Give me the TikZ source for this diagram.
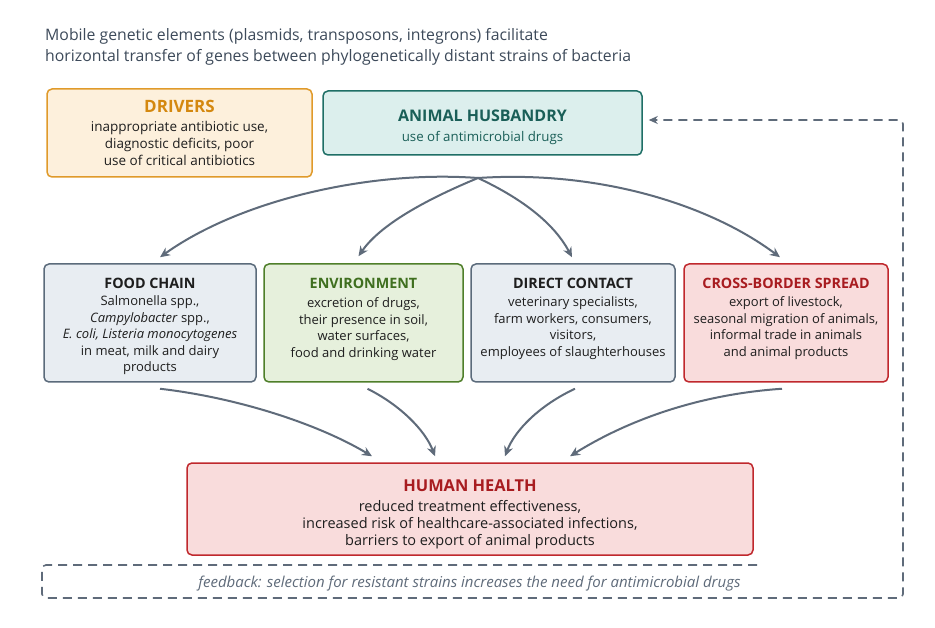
\documentclass[tikz,border=0pt]{standalone}
\usepackage{fontspec}
\setmainfont{Open Sans}
\usetikzlibrary{arrows.meta,calc}
\definecolor{hdr}{HTML}{3D4A5A}
\definecolor{arr}{HTML}{5F6B7A}
\definecolor{drvfill}{HTML}{FDF0DC}
\definecolor{drvdraw}{HTML}{E09A2A}
\definecolor{drvtxt}{HTML}{D4880F}
\definecolor{ahfill}{HTML}{DCEFED}
\definecolor{ahdraw}{HTML}{1F6F66}
\definecolor{ahtxt}{HTML}{1A5F58}
\definecolor{gyfill}{HTML}{E8EDF2}
\definecolor{gydraw}{HTML}{5B6B7B}
\definecolor{envfill}{HTML}{E6F0DC}
\definecolor{envdraw}{HTML}{4F7F2A}
\definecolor{envtxt}{HTML}{3F6F1F}
\definecolor{redfill}{HTML}{F9DCDC}
\definecolor{reddraw}{HTML}{C0282D}
\definecolor{redtxt}{HTML}{A81C20}
\definecolor{bodytxt}{HTML}{1E1E1E}
\newcommand\ttlsz[1]{\fontsize{#1}{16}\selectfont\bfseries}
\tikzset{
  box/.style={draw, rounded corners=5pt, line width=1.5pt, inner sep=0pt},
  boxtext/.style={anchor=north, align=center, inner sep=0pt, text=bodytxt,
     font=\fontsize{13}{16.5}\selectfont},
  flow/.style={draw=arr, line width=2pt, -{Stealth[length=10pt,width=9pt]}},
  fb/.style={draw=arr, line width=1.6pt, dash pattern=on 9pt off 6pt, rounded corners=4pt},
}
\begin{document}
\begin{tikzpicture}[x=1pt,y=-1pt]
\useasboundingbox (0,0) rectangle (935,628);
\fill[white] (0,0) rectangle (935,628);

\node[anchor=base west, inner sep=0pt, text=hdr, font=\fontsize{15.8}{21}\selectfont] (head1) at (45,40.5)
  {Mobile genetic elements (plasmids, transposons, integrons) facilitate};
\node[anchor=base west, inner sep=0pt, text=hdr, font=\fontsize{15.8}{21}\selectfont] (head2) at (45,61.5)
  {horizontal transfer of genes between phylogenetically distant strains of bacteria};

% boxes
\node[box, fill=drvfill, draw=drvdraw, minimum width=265pt, minimum height=88pt] (drv) at (179.5,133) {};
\node[box, fill=ahfill, draw=ahdraw, minimum width=319pt, minimum height=64pt] (ah) at (482.5,123) {};
\node[box, fill=gyfill, draw=gydraw, minimum width=212pt, minimum height=118pt] (fc) at (150,323) {};
\node[box, fill=envfill, draw=envdraw, minimum width=199pt, minimum height=118pt] (env) at (363.5,323) {};
\node[box, fill=gyfill, draw=gydraw, minimum width=204pt, minimum height=118pt] (dc) at (573,323) {};
\node[box, fill=redfill, draw=reddraw, minimum width=204pt, minimum height=118pt] (cb) at (786,323) {};
\node[box, fill=redfill, draw=reddraw, minimum width=566pt, minimum height=92pt] (hh) at (470,509) {};

% texts
\node[boxtext, font=\fontsize{13.5}{16.7}\selectfont] (drvt) at ([yshift=-11.5pt]drv.north)
  {{\ttlsz{17}\color{drvtxt}DRIVERS}\\[3pt]inappropriate antibiotic use,\\diagnostic deficits, poor\\use of critical antibiotics};
\node[boxtext, font=\fontsize{13.3}{16.5}\selectfont] (aht) at ([yshift=-19pt]ah.north)
  {{\ttlsz{16}\color{ahtxt}ANIMAL HUSBANDRY}\\[3.5pt]\textcolor{ahtxt}{use of antimicrobial drugs}};
\node[boxtext] (fct) at ([yshift=-14.5pt]fc.north)
  {{\ttlsz{14.3}FOOD CHAIN}\\[1pt]Salmonella spp.,\\\textit{Campylobacter} spp.,\\\textit{E. coli, Listeria monocytogenes}\\in meat, milk and dairy\\products};
\node[boxtext] (envt) at ([yshift=-14.5pt]env.north)
  {{\ttlsz{14.3}\color{envtxt}ENVIRONMENT}\\[3pt]excretion of drugs,\\their presence in soil,\\water surfaces,\\food and drinking water};
\node[boxtext] (dct) at ([yshift=-14.5pt]dc.north)
  {{\ttlsz{14.3}DIRECT CONTACT}\\[2pt]veterinary specialists,\\farm workers, consumers,\\visitors,\\employees of slaughterhouses};
\node[boxtext] (cbt) at ([yshift=-14.5pt]cb.north)
  {{\ttlsz{14.3}\color{redtxt}CROSS-BORDER SPREAD}\\[2pt]export of livestock,\\seasonal migration of animals,\\informal trade in animals\\and animal products};
\node[boxtext, font=\fontsize{14.5}{16.7}\selectfont] (hht) at ([yshift=-17pt]hh.north)
  {{\ttlsz{16.4}\color{redtxt}HUMAN HEALTH}\\[3.8pt]reduced treatment effectiveness,\\increased risk of healthcare-associated infections,\\barriers to export of animal products};

% arrows from animal husbandry
\coordinate (src) at (478,178);
\draw[flow] (src) .. controls (370,170) and (240,200) .. ([xshift=10pt,yshift=6pt]fc.north);
\draw[flow] (src) .. controls (425,200) and (380,225) .. ([xshift=-5pt,yshift=7pt]env.north);
\draw[flow] (src) .. controls (525,200) and (555,225) .. ([xshift=-1pt,yshift=6pt]dc.north);
\draw[flow] (src) .. controls (600,170) and (710,205) .. ([xshift=-6pt,yshift=6pt]cb.north);

% arrows to human health
\draw[flow] ([xshift=10pt,yshift=-6pt]fc.south) .. controls (240,398) and (320,425) .. ([xshift=-98pt,yshift=6pt]hh.north);
\draw[flow] ([xshift=4pt,yshift=-6pt]env.south) .. controls (400,405) and (425,430) .. ([xshift=-35pt,yshift=6pt]hh.north);
\draw[flow] ([xshift=2pt,yshift=-6pt]dc.south) .. controls (540,405) and (515,430) .. ([xshift=35pt,yshift=6pt]hh.north);
\draw[flow] ([xshift=-4pt,yshift=-6pt]cb.south) .. controls (690,395) and (620,425) .. ([xshift=100pt,yshift=6pt]hh.north);

% feedback
\coordinate (fbstart) at (757,565);
\draw[fb, -{Stealth[length=9pt,width=8pt]}] (fbstart) -- (42,565) -- (42,598) -- (903,598) -- (903,120) -- ([xshift=6pt,yshift=3pt]ah.east);
\node[anchor=base, inner sep=0pt, text=arr, font=\fontsize{15}{17}\selectfont\itshape] (fbt) at (469.5,587)
  {feedback: selection for resistant strains increases the need for antimicrobial drugs};
\end{tikzpicture}
\end{document}
